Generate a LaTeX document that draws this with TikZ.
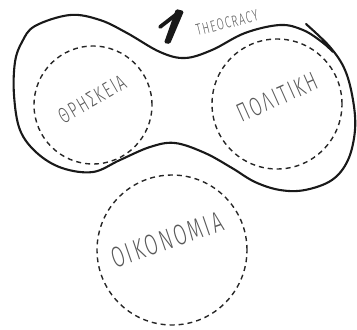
\documentclass[tikz,border=0pt]{standalone}
\usepackage{fontspec}
\newfontfamily\thinfont{Fira Sans Light}[FakeStretch=0.65,LetterSpace=8]
\begin{document}
\begin{tikzpicture}[x=1pt,y=-1pt,
  dashcircle/.style={draw=black!85,line width=1.4pt,dash pattern=on 5pt off 4pt},
  outline/.style={draw=black!90,line width=2.1pt,line cap=round,line join=round},
  lbl/.style={text=black!65,inner sep=0pt}]
\useasboundingbox (0,0) rectangle (357,330);
% dashed circles
\node[dashcircle,circle,minimum size=118pt,inner sep=0pt] (rel) at (93,105) {};
\node[dashcircle,circle,minimum size=130pt,inner sep=0pt] (pol) at (277,104) {};
\node[dashcircle,circle,minimum size=150pt,inner sep=0pt] (eco) at (172,250) {};
% labels
\node[lbl,font=\thinfont\fontsize{22}{22}\selectfont,rotate=30] (lrel) at (92,99) {ΘΡΗΣΚΕΙΑ};
\node[lbl,font=\thinfont\fontsize{26}{26}\selectfont,rotate=24] (lpol) at (277,97) {ΠΟΛΙΤΙΚΗ};
\node[lbl,font=\thinfont\fontsize{29}{29}\selectfont,rotate=19] (leco) at (167,240) {ΟΙΚΟΝΟΜΙΑ};
\node[lbl,font=\thinfont\fontsize{16}{16}\selectfont,rotate=14] (ltheo) at (227,23) {THEOCRACY};
% the numeral 1
\fill[black!90,rounded corners=1.5pt] (176,9) -- (184,11) -- (170,44) -- (164,43) -- cycle;
\draw[black!90,line width=3.8pt,line cap=round] (160,27) -- (178,13);
% outer hand-drawn loop
\draw[outline] plot[smooth,tension=0.6] coordinates {
 (306,24) (330,47) (345,70) (353,100) (355,130) (348,160) (332,180)
 (305,190) (280,190) (255,182) (232,168) (205,153) (175,143) (150,147)
 (120,160) (93,172) (62,168) (37,153) (20,130) (14,95) (15,62) (22,42)
 (35,26) (70,15) (100,20) (127,33) (160,52) (185,58) (212,50) (245,33)
 (280,25) (303,30) (322,42) (333,52)};
\end{tikzpicture}
\end{document}
